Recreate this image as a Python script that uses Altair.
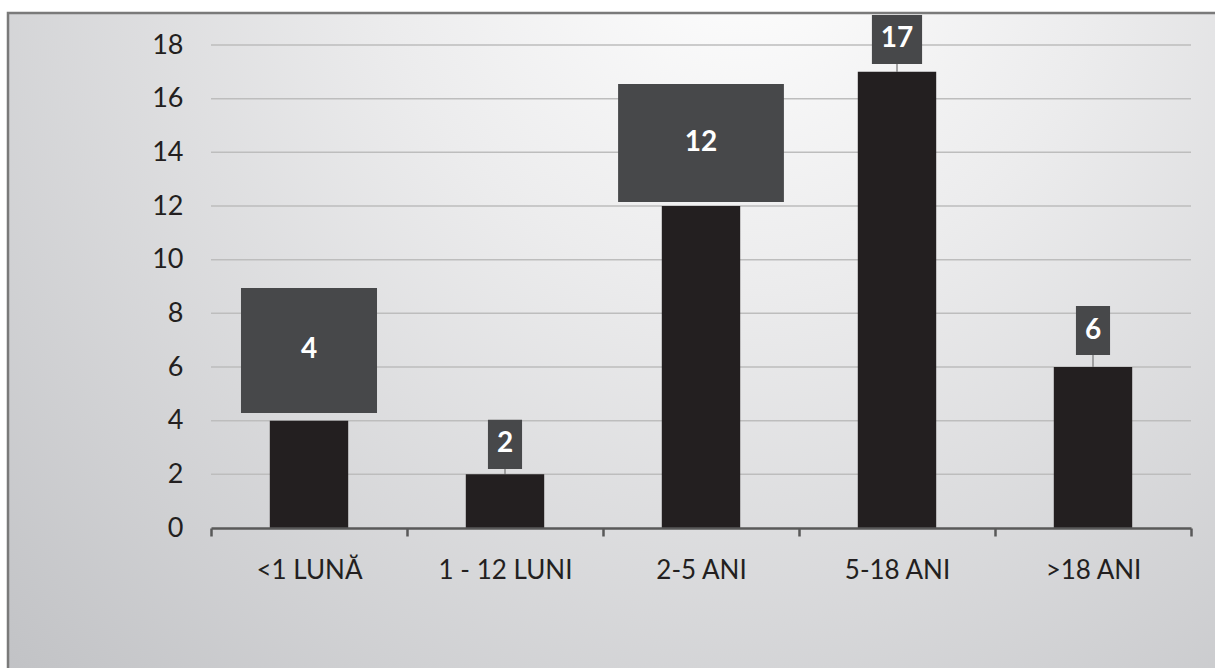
import json
import altair as alt
import pandas as pd

# ---- data ----
categories = ["<1 LUNĂ", "1 - 12 LUNI", "2-5 ANI", "5-18 ANI", ">18 ANI"]
values = [4, 2, 12, 17, 6]
# data-label callout boxes (in value units along y, in category units along x)
box_low = [4.29, 2.2, 12.15, 17.29, 6.45]
box_high = [8.94, 4.03, 16.55, 19.12, 8.27]
box_halfwidth = [0.347, 0.087, 0.423, 0.128, 0.087]
y_ticks = [0, 2, 4, 6, 8, 10, 12, 14, 16, 18]
x_ticks = [-0.5, 0.5, 1.5, 2.5, 3.5, 4.5]

df = pd.DataFrame({
    "cat": categories,
    "idx": list(range(len(categories))),
    "value": values,
    "lo": box_low,
    "hi": box_high,
    "hw": box_halfwidth,
})
grid_df = pd.DataFrame({"tick": y_ticks[1:]})

FONT = "Lato"
TXT = "#231f20"
W, H = 980, 483

label_expr = "(" + json.dumps(categories) + ")[round(datum.value + 0.5)] || ''"

x_scale = alt.Scale(domain=[-0.5, 4.5], nice=False, zero=False)
y_scale = alt.Scale(domain=[0, 18], nice=False, zero=True)

x_axis = alt.Axis(
    values=x_ticks, labelExpr=label_expr, labelOffset=W / 10, labelFlush=False,
    labelOverlap=False, labelBound=False, grid=False, title=None,
    domainColor="#595959", domainWidth=2.5, tickColor="#595959", tickWidth=2.5,
    tickSize=8, labelPadding=21, labelFont=FONT, labelFontSize=26,
    labelColor=TXT, labelFontWeight="normal", zindex=1,
)
y_axis = alt.Axis(
    values=y_ticks, grid=False,
    domain=False, ticks=False, title=None, labelPadding=28,
    labelFont=FONT, labelFontSize=27, labelColor=TXT, zindex=1,
)

base = alt.Chart(df).transform_calculate(
    x0="datum.idx - 0.2", x1="datum.idx + 0.2",
    bx0="datum.idx - datum.hw", bx1="datum.idx + datum.hw",
    mid="(datum.lo + datum.hi) / 2",
)

frame = alt.Chart(pd.DataFrame({"a": [0]})).mark_rect(
    fill=alt.RadialGradient(
        gradient="radial",
        stops=[
            alt.GradientStop(offset=0, color="#ffffff"),
            alt.GradientStop(offset=0.35, color="#ececed"),
            alt.GradientStop(offset=1, color="#c2c3c6"),
        ],
        x1=0.6, y1=0.15, r1=0, x2=0.6, y2=0.15, r2=0.85,
    ),
    stroke="#7a7a7a", strokeWidth=2.5,
).encode(
    x=alt.value(-203), x2=alt.value(1020), y=alt.value(-32), y2=alt.value(640)
)

grid = alt.Chart(grid_df).mark_rule(color="#bdbdbd", strokeWidth=1.5).encode(
    x=alt.datum(-0.5, scale=x_scale, axis=x_axis),
    x2=alt.datum(4.5),
    y=alt.Y("tick:Q", scale=y_scale, axis=y_axis),
)

bars = base.mark_rect(color="#231f20").encode(
    x=alt.X("x0:Q", scale=x_scale, axis=x_axis),
    x2="x1:Q",
    y=alt.Y("value:Q", scale=y_scale, axis=y_axis),
    y2=alt.datum(0),
)

# leader lines only for the narrow callouts
leaders = base.transform_filter("datum.hw < 0.2").mark_rule(
    color="#8a8a8a", strokeWidth=1.5
).encode(
    x=alt.X("idx:Q", scale=x_scale, axis=x_axis),
    y=alt.Y("value:Q", scale=y_scale, axis=y_axis),
    y2="lo:Q",
)

boxes = base.mark_rect(color="#47484a").encode(
    x=alt.X("bx0:Q", scale=x_scale, axis=x_axis),
    x2="bx1:Q",
    y=alt.Y("lo:Q", scale=y_scale, axis=y_axis),
    y2="hi:Q",
)

texts = base.mark_text(
    color="white", font=FONT, fontSize=28, fontWeight="bold", baseline="middle"
).encode(
    x=alt.X("idx:Q", scale=x_scale, axis=x_axis),
    y=alt.Y("mid:Q", scale=y_scale, axis=y_axis),
    text="value:Q",
)

chart = alt.layer(frame, grid, leaders, bars, boxes, texts).properties(
    width=W, height=H,
    padding={"left": 211, "top": 45, "right": 24, "bottom": 140},
    autosize=alt.AutoSizeParams(type="none"),
    background="white",
).configure_view(stroke=None)

chart.save("out.html", embed_options={"renderer": "svg", "actions": False})
